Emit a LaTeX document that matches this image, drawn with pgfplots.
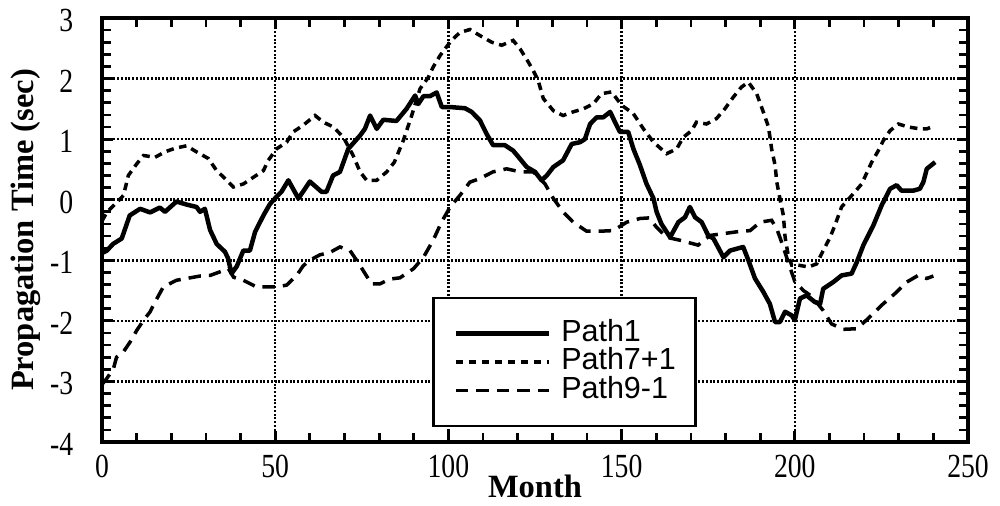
\documentclass[border=0pt]{standalone}
\usepackage{fontspec}
\setmainfont{Liberation Serif}
\newfontfamily\tickfont[FakeStretch=0.82]{Liberation Serif}
\newfontfamily\legfont{Liberation Sans}
\usepackage{pgfplots}
\pgfplotsset{compat=1.18}

\begin{document}
\begin{tikzpicture}
\begin{axis}[
    scale only axis,
    width=346.4pt, height=169.6pt,
    xmin=0, xmax=250, ymin=-4, ymax=3,
    xtick={0,50,...,250}, ytick={-4,-3,...,3},
    minor x tick num=4, minor y tick num=4,
    tick pos=both, tick align=inside,
    major tick length=4.5pt, minor tick length=3.5pt,
    every tick/.style={black, line width=1.1pt},
    axis line style={line width=1.3pt},
    grid=major,
    major grid style={black, line width=1pt, dash pattern=on 0.8pt off 0.7pt},
    /pgf/number format/assume math mode=true,
    ticklabel style={font=\fontsize{13.5}{15}\selectfont\tickfont},
    yticklabel style={xshift=-8pt, yshift=-1pt},
    xticklabel style={yshift=-1.6pt},
    xlabel={Month}, ylabel={Propagation Time (sec)},
    label style={font=\fontsize{13}{15}\selectfont\bfseries},
    xlabel style={yshift=8pt},
    ylabel style={yshift=-3pt},
    legend style={at={(axis cs:95.3,-1.6)}, anchor=north west,
        draw=black, line width=1.1pt, font=\fontsize{12.2}{13}\selectfont\legfont,
        inner xsep=8pt, inner ysep=8.5pt, column sep=0pt,
        nodes={inner xsep=0pt, inner ysep=0pt, text height=8.8pt, text depth=2.6pt}},
    legend cell align=left,
    legend image code/.code={\draw[#1] plot coordinates {(0pt,0pt) (37.3pt,0pt)}; \path (41.3pt,0pt);},
]
\addplot[black, line width=1.8pt, line join=round] coordinates {
(0,-0.88) (1.4,-0.84) (3.2,-0.73) (5.7,-0.64) (8,-0.26) (11,-0.15) (13.9,-0.21) (16.7,-0.13)
(18.2,-0.2) (21.5,-0.03) (24.4,-0.08) (27.3,-0.12) (28.3,-0.2) (29.7,-0.15) (31.2,-0.5) (33.1,-0.73)
(35.5,-0.86) (36.4,-0.97) (37.4,-1.22) (38.9,-1.1) (40.8,-0.84) (42.7,-0.84) (44.2,-0.53) (46.6,-0.26)
(48.5,-0.07) (50.4,0.05) (51.8,0.13) (53.8,0.32) (56.7,0.02) (60,0.3) (63.4,0.13) (64.8,0.13)
(66.7,0.4) (68.7,0.46) (71.1,0.84) (74.5,1.06) (75.9,1.17) (77.4,1.39) (79.3,1.17) (81.2,1.32)
(85,1.3) (87.9,1.5) (90.4,1.72) (91.3,1.58) (92.8,1.71) (94.7,1.71) (96.6,1.77) (98.1,1.53)
(100.5,1.53) (104.8,1.51) (106.7,1.45) (109.1,1.31) (111,1.09) (112.9,0.9) (116.3,0.9) (118.7,0.81)
(120.6,0.68) (122.6,0.54) (125,0.46) (126.9,0.32) (128.4,0.4) (130.3,0.54) (133.1,0.65) (135.6,0.92)
(138,0.95) (139.4,1.0) (140.9,1.25) (142.8,1.36) (144.7,1.36) (146.7,1.45) (148.1,1.28) (149.5,1.12)
(151.9,1.12) (153.4,0.84) (155.3,0.57) (157.2,0.26) (159.2,0.02) (160.1,-0.2) (161.5,-0.4) (164,-0.62)
(166.4,-0.37) (168.3,-0.29) (169.7,-0.12) (171.2,-0.29) (173.1,-0.37) (175,-0.59) (176.5,-0.64) (179.4,-0.95)
(181.3,-0.84) (185.1,-0.78) (186.6,-1.0) (188.5,-1.3) (190.9,-1.52) (192.8,-1.72) (194.3,-2.02) (195.7,-2.02)
(197.2,-1.85) (199.1,-1.91) (200,-1.99) (201.5,-1.63) (203.4,-1.58) (205.8,-1.69) (207.3,-1.72) (208.2,-1.47)
(211.1,-1.36) (213.5,-1.25) (216.4,-1.22) (217.9,-1.03) (219.8,-0.75) (222.7,-0.42) (225.1,-0.09) (227.5,0.18)
(229.4,0.24) (230.8,0.15) (234.2,0.15) (236.1,0.18) (237.1,0.29) (238.1,0.51) (240.5,0.62)
};
\addlegendentry{Path1}
\addplot[black, line width=1.4pt, dash pattern=on 3pt off 2.2pt] coordinates {
(0,-0.35) (1.5,-0.2) (3.3,-0.1) (6.2,0.07) (7.6,0.4) (10,0.59) (12,0.73) (15.3,0.7)
(18.2,0.79) (21.1,0.85) (24.4,0.89) (27.3,0.79) (30.7,0.68) (33.1,0.48) (35.5,0.35) (37.9,0.21)
(40.8,0.26) (43.7,0.37) (46.6,0.48) (48,0.65) (50.4,0.84) (53.3,0.95) (55.2,1.12) (58.1,1.23)
(61.5,1.39) (63.9,1.28) (66.8,1.2) (69.7,1.03) (72.5,0.73) (74.5,0.46) (76.4,0.32) (79.3,0.32)
(82.2,0.46) (84.4,0.62) (87,0.98) (89.4,1.39) (91.8,1.83) (94.2,2.02) (95.6,2.19) (97.6,2.38)
(99,2.49) (100.9,2.63) (103.3,2.76) (106.2,2.81) (109.1,2.71) (112.5,2.6) (115.4,2.55) (118.7,2.63)
(120.7,2.49) (123.1,2.27) (124.5,2.13) (125.9,1.97) (127.4,1.67) (130.3,1.47) (133.1,1.39) (136,1.45)
(138.9,1.5) (141.8,1.58) (144.2,1.75) (147.1,1.78) (150,1.56) (153.4,1.42) (156.3,1.17) (159.2,0.95)
(163,0.76) (165.9,0.84) (167.8,1.03) (170.2,1.14) (171.6,1.28) (174.5,1.25) (177.4,1.34) (179.8,1.5)
(182.2,1.69) (184.6,1.86) (186.6,1.94) (189,1.75) (190.9,1.45) (192.4,1.2) (193.3,0.84) (194.3,0.57)
(194.8,0.29) (195.7,0.02) (196.7,-0.26) (197.2,-0.62) (198.1,-0.92) (199.1,-1.08) (201,-1.08) (203.9,-1.11)
(206.3,-1.06) (208.2,-0.84) (210.2,-0.62) (211.6,-0.42) (213.5,-0.12) (216.9,0.1) (219.3,0.26) (222.2,0.62)
(224.1,0.81) (225.6,0.98) (227.5,1.14) (229.9,1.25) (232.8,1.2) (236.1,1.17) (238.1,1.17) (239.5,1.2)
};
\addlegendentry{Path7+1}
\addplot[black, line width=1.4pt, dash pattern=on 5pt off 3.2pt] coordinates {
(0,-3.05) (1.4,-2.95) (3.3,-2.79) (4.2,-2.6) (6.2,-2.51) (8.1,-2.35) (10,-2.16) (12,-1.99)
(13.9,-1.85) (15.3,-1.69) (17.7,-1.44) (21.5,-1.33) (25.4,-1.29) (28.3,-1.26) (31.2,-1.25) (34.1,-1.19)
(36.5,-1.14) (38,-1.28) (40.8,-1.33) (44.6,-1.44) (47.5,-1.44) (50.4,-1.44) (53.3,-1.41) (56.2,-1.25)
(58.1,-1.09) (60,-1.0) (62.9,-0.91) (65.8,-0.87) (68.7,-0.78) (71.6,-0.84) (73.5,-1.0) (75.4,-1.17)
(77.8,-1.39) (80.2,-1.39) (83.1,-1.31) (86,-1.29) (89.9,-1.14) (92.8,-0.95) (95.6,-0.67) (98,-0.37)
(100.5,-0.12) (103.3,0.07) (106.2,0.29) (109.1,0.35) (112.9,0.46) (116.8,0.51) (120.7,0.46) (124.5,0.46)
(127.9,0.26) (130.3,0.02) (133.1,-0.2) (136,-0.37) (139.9,-0.52) (143.8,-0.52) (147.6,-0.51) (151.5,-0.37)
(155.3,-0.31) (158,-0.3) (160,-0.45) (163,-0.62) (166.9,-0.67) (172.1,-0.75) (175.5,-0.59) (179.4,-0.56)
(183.2,-0.53) (187.1,-0.51) (190,-0.37) (193.3,-0.34) (194.8,-0.48) (196.5,-0.75) (198.2,-1.05) (200,-1.35)
(202.5,-1.5) (205,-1.6) (208.2,-1.83) (210.6,-2.05) (214,-2.14) (217.9,-2.13) (221.2,-1.96) (225.1,-1.74)
(228.9,-1.55) (232.3,-1.36) (235.6,-1.25) (238.1,-1.3) (240,-1.26)
};
\addlegendentry{Path9-1}
\end{axis}
\pgfresetboundingbox
\path ([xshift=-40.8pt,yshift=-25.6pt]current axis.south west) rectangle ([xshift=12.8pt,yshift=7.2pt]current axis.north east);
\end{tikzpicture}
\end{document}
